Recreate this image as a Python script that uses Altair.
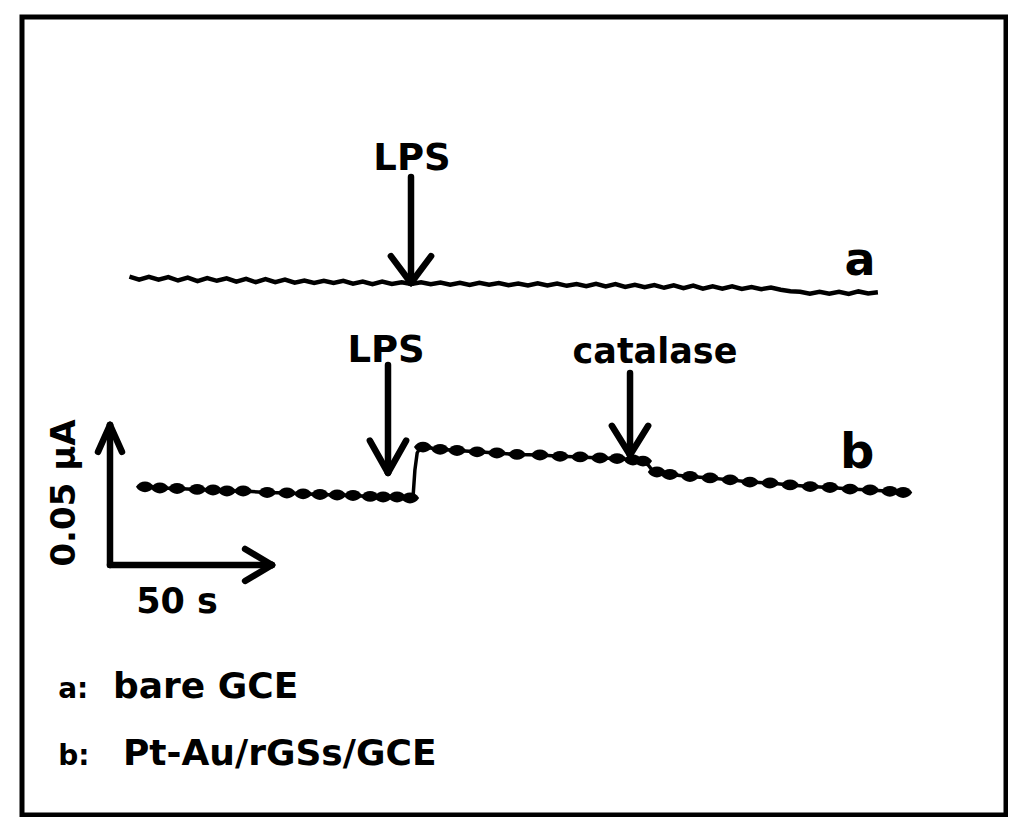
import altair as alt
import pandas as pd

# ---- trace a (bare GCE): time in s, current in nA (offset trace) ----
a_t = [6, 9, 12, 15, 18, 21, 24, 27, 30, 33, 36, 39, 42, 45, 48, 51, 54, 57, 60, 63,
       66, 69, 72, 75, 78, 81, 84, 87, 90, 93, 96, 99, 102, 105, 108, 111, 114, 117, 120, 123,
       126, 129, 132, 135, 138, 141, 144, 147, 150, 153, 156, 159, 162, 165, 168, 171, 174, 177, 180, 183,
       186, 189, 192, 195, 198, 201, 204, 207, 210, 213, 216, 219, 222, 225, 228, 231, 234, 237]
a_i = [103.0, 101.9, 102.9, 101.9, 102.8, 101.6, 102.6, 101.4, 102.5, 101.5, 102.4, 101.2, 102.2, 101.0, 102.1, 101.0, 101.9, 100.8, 101.6, 100.7,
       101.5, 100.7, 101.5, 100.5, 101.2, 100.3, 101.2, 100.4, 101.0, 100.4, 101.0, 100.3, 100.9, 100.1, 100.8, 100.0, 100.8, 100.1, 100.7, 99.9,
       100.5, 99.8, 100.6, 99.8, 100.5, 99.7, 100.3, 99.6, 100.4, 99.5, 100.3, 99.3, 100.1, 99.2, 100.0, 99.0, 99.9, 98.9, 99.8, 98.7,
       99.5, 98.7, 99.5, 98.6, 99.3, 98.5, 99.1, 98.3, 97.8, 97.6, 96.9, 97.6, 96.9, 97.6, 96.8, 97.7, 97.0, 97.4]

# ---- trace b (Pt-Au/rGSs/GCE) ----
b_t = [10.8, 15.4, 20.7, 26.9, 31.8, 36.1, 41.1, 48.5, 54.6, 59.6, 64.8, 70.1, 75.0, 80.3, 84.3, 88.6, 92.6,
       93.5, 94.1, 94.8, 95.7, 96.6, 101.9, 107.1, 113.3, 119.4, 125.6, 132.7, 138.9, 145.1, 151.2, 156.5, 161.4,
       164.5, 166.1, 167.3, 168.8, 172.8, 179.0, 185.2, 191.4, 197.5, 203.7, 209.9, 216.1, 222.2, 228.4, 234.6, 240.7, 244.8]
b_i = [27.9, 27.5, 27.3, 27.0, 26.8, 26.4, 26.4, 25.9, 25.7, 25.4, 25.2, 25.0, 24.8, 24.5, 24.3, 24.3, 23.9,
       23.8, 33.9, 40.0, 41.8, 42.1, 41.3, 40.9, 40.4, 40.0, 39.5, 39.3, 38.8, 38.6, 38.2, 38.0, 37.5,
       37.1, 35.7, 33.9, 33.2, 32.3, 31.6, 31.1, 30.4, 29.6, 29.3, 28.6, 28.0, 27.7, 27.1, 26.8, 26.3, 25.9]
b_bead = [1, 1, 1, 1, 1, 1, 1, 1, 1, 1, 1, 1, 1, 1, 1, 1, 1,
          0, 0, 0, 0, 1, 1, 1, 1, 1, 1, 1, 1, 1, 1, 1, 1,
          1, 0, 0, 1, 1, 1, 1, 1, 1, 1, 1, 1, 1, 1, 1, 1, 1]

# ---- arrows (shaft + head), in data units ----
arrow_name = ["LPS a", "LPS b", "catalase"]
arrow_t = [92.9, 85.8, 160.5]
arrow_top = [138.6, 71.4, 68.6]
arrow_tip = [100.7, 32.9, 39.3]
arrow_head_dt = [6.2, 5.6, 5.6]
arrow_head_di = [9.6, 11.5, 10.4]

# ---- scale bar: 50 s and 0.05 uA (= 50 nA) ----
bar_t = [50]
bar_i = [50]

# ---- text labels ----
lab_text = ["LPS", "LPS", "catalase", "a", "b", "50 s"]
lab_t = [93.2, 85.2, 168.2, 231.5, 230.6, 20.7]
lab_i = [141.1, 72.5, 72.1, 103.6, 34.6, -17.1]
lab_size = [37, 37, 35, 46, 48, 35]

legend_key = ["a:", "b:"]
legend_text = ["bare GCE", "Pt-Au/rGSs/GCE"]
legend_t = [-16.0, -16.0]
legend_t2 = [0.9, 4.0]
legend_i = [-47.5, -71.4]

FONT = "DejaVu Sans"
INK = "#000000"

xs = alt.Scale(domain=[-27.16, 276.54], nice=False, zero=False)
ys = alt.Scale(domain=[-89.29, 195.71], nice=False, zero=False)

df_a = pd.DataFrame({"t": a_t, "i": a_i})
df_b = pd.DataFrame({"t": b_t, "i": b_i, "bead": b_bead})

segs = []
for n, t, top, tip, dt, di in zip(arrow_name, arrow_t, arrow_top, arrow_tip, arrow_head_dt, arrow_head_di):
    segs.append({"t": t, "i": top, "t2": t, "i2": tip})
    segs.append({"t": t - dt, "i": tip + di, "t2": t, "i2": tip})
    segs.append({"t": t + dt, "i": tip + di, "t2": t, "i2": tip})
# scale bar
segs.append({"t": 0, "i": 0, "t2": 0, "i2": bar_i[0]})
segs.append({"t": 0, "i": 0, "t2": bar_t[0], "i2": 0})
segs.append({"t": -3.7, "i": bar_i[0] - 9.6, "t2": 0, "i2": bar_i[0]})
segs.append({"t": 3.7, "i": bar_i[0] - 9.6, "t2": 0, "i2": bar_i[0]})
segs.append({"t": bar_t[0] - 8.3, "i": 5.7, "t2": bar_t[0], "i2": 0})
segs.append({"t": bar_t[0] - 8.3, "i": -5.7, "t2": bar_t[0], "i2": 0})
df_seg = pd.DataFrame(segs)

df_lab = pd.DataFrame({"t": lab_t, "i": lab_i, "text": lab_text, "size": lab_size})
df_key = pd.DataFrame({"t": legend_t, "i": legend_i, "text": legend_key})
df_leg = pd.DataFrame({"t": legend_t2, "i": legend_i, "text": legend_text})
df_ylab = pd.DataFrame({"t": [-13.9], "i": [25.7], "text": ["0.05 μA"]})

X = alt.X("t:Q", scale=xs, axis=None)
Y = alt.Y("i:Q", scale=ys, axis=None)

line_a = alt.Chart(df_a).mark_line(color=INK, strokeWidth=4.5, interpolate="linear").encode(x=X, y=Y)
line_b = alt.Chart(df_b).mark_line(color=INK, strokeWidth=3.5).encode(x=X, y=Y)
bead_path = "M-1,0C-0.5,-0.8,0.5,-0.8,1,0C0.5,0.8,-0.5,0.8,-1,0Z"
beads_b = alt.Chart(df_b).transform_filter("datum.bead == 1").mark_point(
    shape=bead_path, filled=True, color=INK, size=330, opacity=1
).encode(x=X, y=Y)

rules = alt.Chart(df_seg).mark_rule(color=INK, strokeWidth=6.5, strokeCap="round").encode(
    x=X, y=Y, x2="t2:Q", y2="i2:Q"
)

labels = alt.Chart(df_lab).mark_text(font=FONT, fontWeight="bold", color=INK, align="center",
                                     baseline="alphabetic").encode(
    x=X, y=Y, text="text:N", size=alt.Size("size:Q", scale=None, legend=None)
)
ylab = alt.Chart(df_ylab).mark_text(font=FONT, fontWeight="bold", color=INK, align="center",
                                    baseline="middle", angle=270, fontSize=34).encode(x=X, y=Y, text="text:N")
keys = alt.Chart(df_key).mark_text(font=FONT, fontWeight="bold", color=INK, align="left",
                                   baseline="alphabetic", fontSize=28).encode(x=X, y=Y, text="text:N")
legs = alt.Chart(df_leg).mark_text(font=FONT, fontWeight="bold", color=INK, align="left",
                                   baseline="alphabetic", fontSize=36).encode(x=X, y=Y, text="text:N")

chart = alt.layer(line_a, line_b, beads_b, rules, labels, ylab, keys, legs).properties(
    width=984, height=798,
    autosize=alt.AutoSizeParams(type="none"),
    padding={"left": 14, "top": 9, "right": 2, "bottom": 2},
    background="white",
).configure_view(stroke="black", strokeWidth=5)

chart.save("out.html", embed_options={"renderer": "svg", "actions": False})
